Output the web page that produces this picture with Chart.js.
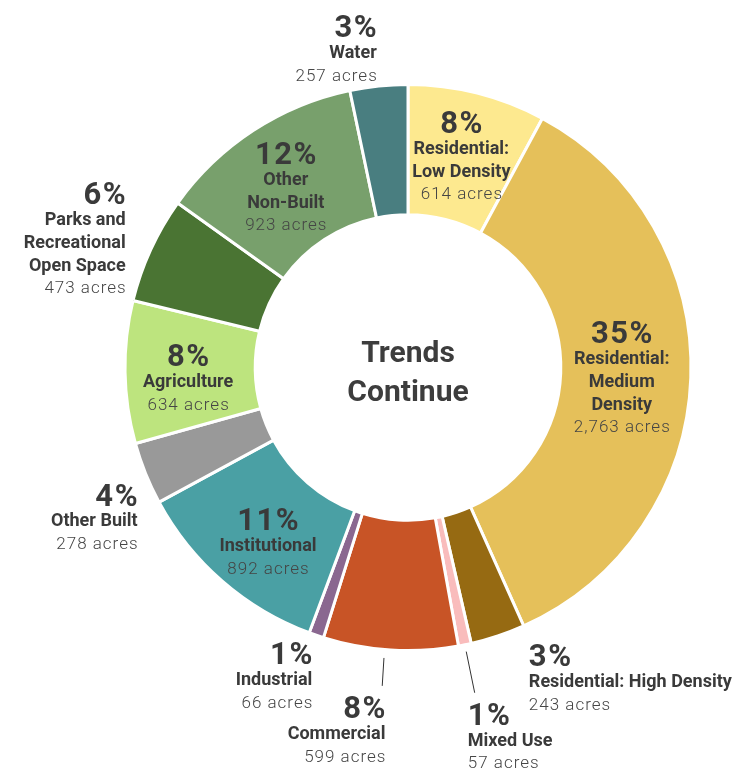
<!DOCTYPE html>
<html>
<head>
<meta charset="utf-8">
<script src="https://cdn.jsdelivr.net/npm/chart.js@4"></script>
<style>
  html, body { margin: 0; padding: 0; background: #fff; }
  #wrap { width: 735px; height: 772px; }
</style>
</head>
<body>
<div id="wrap"><canvas id="chart-landuse"></canvas></div>
<script>
// ── Data ──────────────────────────────────────────────
const categories = [
  "Residential: Low Density", "Residential: Medium Density", "Residential: High Density",
  "Mixed Use", "Commercial", "Industrial", "Institutional", "Other Built",
  "Agriculture", "Parks and Recreational Open Space", "Other Non-Built", "Water"
];
const acres = [614, 2763, 243, 57, 599, 66, 892, 278, 634, 473, 923, 257];
const nameLines = [
  ["Residential:", "Low Density"],
  ["Residential:", "Medium", "Density"],
  ["Residential: High Density"],
  ["Mixed Use"],
  ["Commercial"],
  ["Industrial"],
  ["Institutional"],
  ["Other Built"],
  ["Agriculture"],
  ["Parks and", "Recreational", "Open Space"],
  ["Other", "Non-Built"],
  ["Water"]
];
const centerLines = ["Trends", "Continue"];

const sliceColors = [
  "#fde98f", "#e5c05a", "#966a12", "#f9bcbc", "#c85426", "#8a6790",
  "#4aa0a4", "#999999", "#bde47e", "#4a7433", "#78a06c", "#497e80"
];

// label layout: "in" = centred in the ring, "out" = outside the ring
// dx/dy shift the block, align is the text alignment, lead = radial leader line
const labelLayout = [
  { mode: "in",  dx: 0,   dy: 1,   align: "center" },
  { mode: "in",  dx: -4,  dy: 3,   align: "center" },
  { mode: "out", dx: 31,  dy: 43,  align: "left" },
  { mode: "out", dx: 3,   dy: 93,  align: "left",  lead: [7, 49] },
  { mode: "out", dx: -5,  dy: 81,  align: "right", lead: [8, 36], leadDx: -6 },
  { mode: "out", dx: -4,  dy: 42,  align: "right" },
  { mode: "in",  dx: 3,   dy: 11,  align: "center" },
  { mode: "out", dx: -8,  dy: 45,  align: "right" },
  { mode: "in",  dx: -2,  dy: 8,   align: "center" },
  { mode: "out", dx: -25, dy: -10, align: "right" },
  { mode: "in",  dx: -3,  dy: 3,   align: "center" },
  { mode: "out", dx: -2,  dy: -36, align: "right" }
];

const TEXT_DARK = "#3a3a3a";
const FONT = "Roboto, 'Open Sans', sans-serif";

// ── Plugins ───────────────────────────────────────────
const sliceLabels = {
  id: "sliceLabels",
  afterDatasetsDraw(chart) {
    const ctx = chart.ctx;
    const meta = chart.getDatasetMeta(0);
    const total = acres.reduce((a, b) => a + b, 0);
    ctx.save();
    ctx.textBaseline = "middle";
    meta.data.forEach((arc, i) => {
      const p = arc.getProps(["x", "y", "startAngle", "endAngle", "innerRadius", "outerRadius"], true);
      const mid = (p.startAngle + p.endAngle) / 2;
      const lay = labelLayout[i];
      const r = lay.mode === "in" ? (p.innerRadius + p.outerRadius) / 2 : p.outerRadius;
      const ax = p.x + Math.cos(mid) * r + lay.dx;
      const ay = p.y + Math.sin(mid) * r + lay.dy + 2;

      const lines = [{ text: Math.round(acres[i] / total * 100) + "%", font: "700 31px " + FONT, color: TEXT_DARK, gap: 0, ls: "1.5px", nudge: 2 }];
      nameLines[i].forEach((t, k) => lines.push({ text: t, font: "700 18px " + FONT, color: TEXT_DARK, gap: k === 0 ? 26 : 23, ls: "0px", nudge: 0 }));
      lines.push({ text: acres[i].toLocaleString("en-US") + " acres", font: "300 17px " + FONT, color: "#454545", gap: 23, ls: "1px", nudge: 0 });

      let off = 0;
      lines.forEach(l => { off += l.gap; l.off = off; });
      const top = ay - off / 2;

      ctx.textAlign = lay.align;
      lines.forEach(l => {
        ctx.font = l.font;
        ctx.fillStyle = l.color;
        ctx.letterSpacing = l.ls;
        // letter spacing adds trailing space; compensate for right/center alignment
        const trail = parseFloat(l.ls) || 0;
        const shift = lay.align === "right" ? trail : lay.align === "center" ? trail / 2 : 0;
        ctx.fillText(l.text, ax + shift, top + l.off + l.nudge);
      });
      ctx.letterSpacing = "0px";

      if (lay.lead) {
        const sx = lay.leadDx || 0;
        const r1 = p.outerRadius + lay.lead[0], r2 = p.outerRadius + lay.lead[1];
        ctx.beginPath();
        ctx.moveTo(p.x + Math.cos(mid) * r1 + sx, p.y + Math.sin(mid) * r1);
        ctx.lineTo(p.x + Math.cos(mid) * r2 + sx, p.y + Math.sin(mid) * r2);
        ctx.strokeStyle = "#333";
        ctx.lineWidth = 1;
        ctx.stroke();
      }
    });
    ctx.restore();
  }
};

const centerText = {
  id: "centerText",
  afterDatasetsDraw(chart) {
    const ctx = chart.ctx;
    const arc = chart.getDatasetMeta(0).data[0];
    ctx.save();
    ctx.font = "700 30px " + FONT;
    ctx.fillStyle = "#3d3d3d";
    ctx.textAlign = "center";
    ctx.textBaseline = "middle";
    ctx.fillText(centerLines[0], arc.x, arc.y - 13);
    ctx.fillText(centerLines[1], arc.x, arc.y + 26);
    ctx.restore();
  }
};

// ── Chart ─────────────────────────────────────────────
new Chart(document.getElementById("chart-landuse"), {
  type: "doughnut",
  data: {
    labels: categories,
    datasets: [{
      data: acres,
      backgroundColor: sliceColors,
      borderColor: "#ffffff",
      borderWidth: 3,
      hoverOffset: 0,
      offset: 0
    }]
  },
  options: {
    responsive: true,
    maintainAspectRatio: false,
    animation: false,
    cutout: "54%",
    layout: { padding: { left: 123.5, right: 42.5, top: 83, bottom: 120 } },
    plugins: {
      legend: { display: false },
      tooltip: { enabled: false }
    }
  },
  plugins: [sliceLabels, centerText]
});
</script>
</body>
</html>
